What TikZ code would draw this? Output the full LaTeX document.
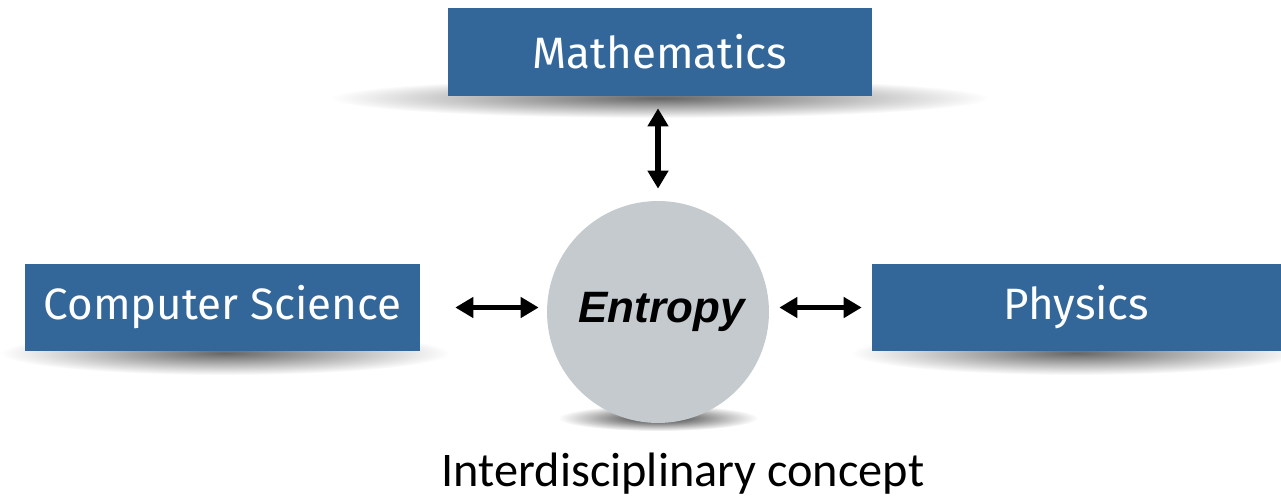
\documentclass[tikz,border=0pt]{standalone}
\usepackage{fontspec}
\setmainfont{Carlito}
\newfontfamily\lightfont{Fira Sans}
\newfontfamily\entfont{Liberation Sans}
\usetikzlibrary{arrows.meta}
\definecolor{boxblue}{RGB}{52,103,153}
\definecolor{circgray}{RGB}{196,202,206}
\tikzset{
  boxnode/.style={rectangle, fill=boxblue, text=white, inner sep=0pt,
    minimum height=1.76cm, font=\lightfont\fontsize{25}{30}\selectfont},
  dbl/.style={line width=3pt, {Triangle[width=0.4cm,length=0.36cm]}-{Triangle[width=0.4cm,length=0.36cm]}},
  shadowshade/.style={inner color=black!60, outer color=white}
}
\begin{document}
\begin{tikzpicture}[x=0.02cm,y=-0.02cm]
\useasboundingbox (0,0) rectangle (1281,500);
% shadows
\shade[shadowshade] (660,98) ellipse [x radius=330, y radius=20];
\shade[shadowshade] (225,353) ellipse [x radius=225, y radius=22];
\shade[shadowshade] (1076,353) ellipse [x radius=225, y radius=22];
\shade[inner color=black!80, outer color=white] (658,418) ellipse [x radius=100, y radius=13];
% boxes
\node[boxnode, minimum width=8.48cm] (math) at (660,52) {Mathematics};
\node[boxnode, minimum width=7.9cm, minimum height=1.74cm] (cs) at (222.5,307.5) {Computer Science};
\node[boxnode, minimum width=8.18cm, minimum height=1.74cm] (phys) at (1076.5,307.5) {Physics};
\node[circle, fill=circgray, minimum size=4.44cm, inner sep=0pt,
  font=\entfont\bfseries\itshape\fontsize{25}{30}\selectfont] (ent) at (658,312) {\kern 4pt Entropy};
\node[font=\fontsize{27.5}{32}\selectfont, anchor=base] (cap) at (683,486) {Interdisciplinary concept};
% arrows
\draw[dbl, shorten <=0.24cm, shorten >=0.24cm] (math.south -| ent.north) -- (ent.north);
\draw[dbl, shorten <=0.7cm, shorten >=0.16cm] (cs.east) -- (cs.east -| ent.west);
\draw[dbl, shorten <=0.2cm, shorten >=0.2cm] (ent.east |- phys.west) -- (phys.west);
\end{tikzpicture}
\end{document}
